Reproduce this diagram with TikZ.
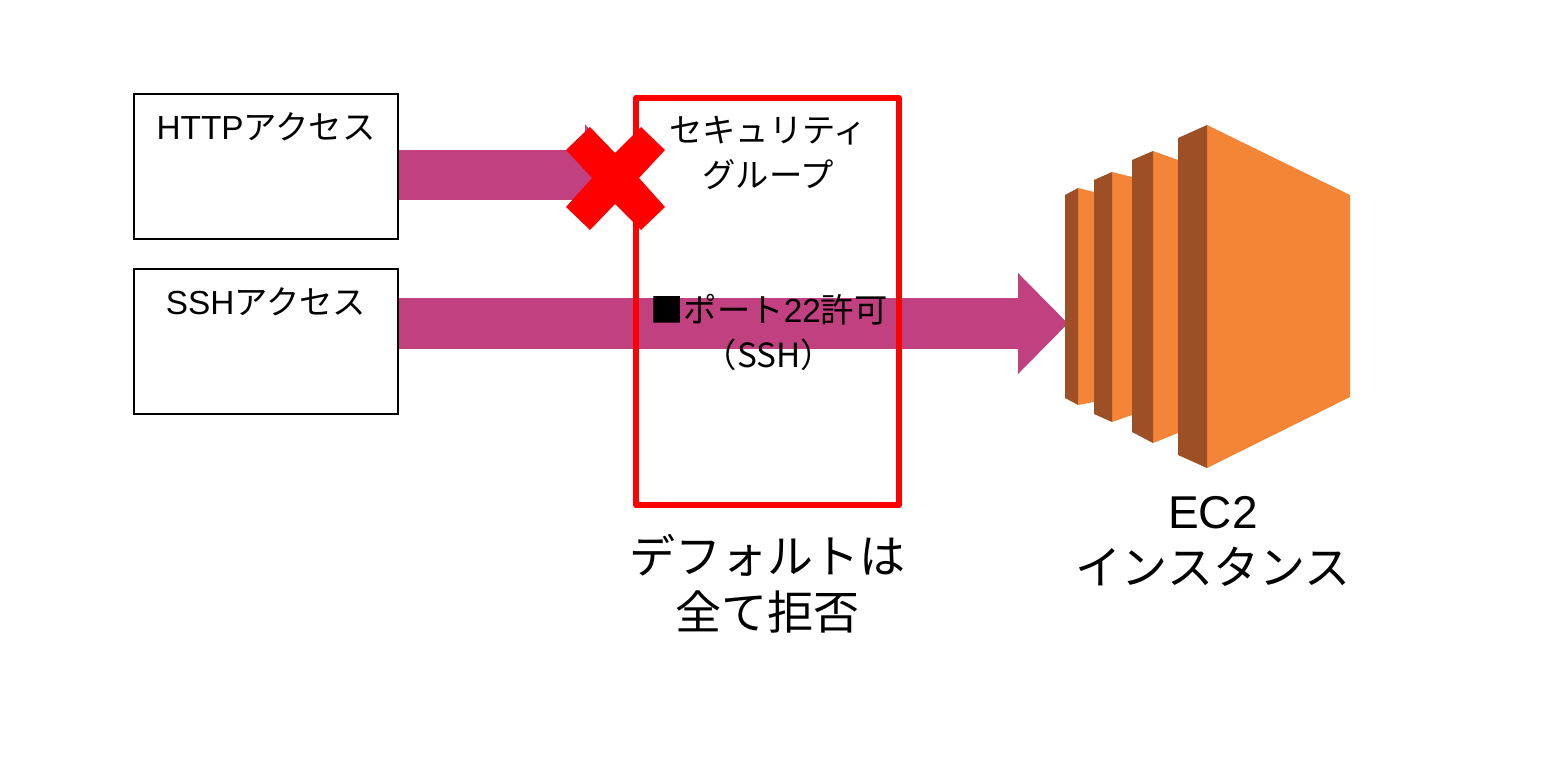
\documentclass[tikz,border=0pt]{standalone}
\usepackage{fontspec}
\setmainfont{Liberation Sans}
\newfontfamily\cjk{Noto Sans CJK JP}
\usetikzlibrary{arrows.meta,calc}
\definecolor{flowc}{HTML}{C04080}
\definecolor{ecl}{HTML}{F58536}
\definecolor{ecd}{HTML}{9D5025}
\definecolor{xred}{HTML}{FF0000}
\tikzset{
  srcbox/.style={draw=black,line width=0.9pt,fill=white,minimum width=198pt,minimum height=108.75pt,inner sep=0pt},
  flow/.style={draw=flowc,line width=38pt,line cap=butt,-{Triangle[length=37.5pt 0 0,width=73.5pt 0 0,sep=0pt]}},
  small/.style={font=\fontsize{25}{33.75}\selectfont,align=center,inner sep=0pt},
  big/.style={font=\fontsize{34.5}{42}\selectfont,align=center,inner sep=0pt},
  sg/.style={draw=xred,line width=4.6pt,line join=round,fill=none,minimum width=197pt,minimum height=305.25pt,inner sep=0pt},
  lightf/.style={fill=ecl},
  darkf/.style={fill=ecd}
}
\begin{document}
\begin{tikzpicture}[x=0.75pt,y=-0.75pt]
\useasboundingbox (0,0) rectangle (1549,778);
% source boxes
\node[srcbox] (http) at (266,166.5) {};
\node[srcbox] (ssh) at (266,341.5) {};
\node[small] (httpt) at (266,127) {HTTP{\cjk アクセス}};
\node[small] (ssht) at (266,302) {SSH{\cjk アクセス}};
% arrow targets
\coordinate (sgtip) at (635,175);
\coordinate (ectip) at (1068,323.5);
\draw[flow] (http.east |- sgtip) -- (sgtip);
\draw[flow] (ssh.east |- ectip) -- (ectip);
% security group
\node[sg] (group) at (767.5,301.5) {};
\node[small] (sgt) at (768,152.5) {\cjk セキュリティ\\\cjk グループ};
\node[small] (portt) at (769,332) {\cjk ■ポート{\fontfamily{\rmdefault}\selectfont 22}許可\\\cjk （SSH）};
\node[big] (deft) at (767,584) {\cjk デフォルトは\\\cjk 全て拒否};
% cross
\fill[xred] (590,127) -- (615,153) -- (641,127) -- (665,150) -- (639,178) -- (665,207) -- (641,230) -- (615,204) -- (590,230) -- (566,207) -- (592,178) -- (566,150) -- cycle;
% EC2 icon
\fill[lightf] (1078,188) -- (1094,192) -- (1094,402) -- (1078,405) -- cycle;
\fill[darkf] (1065,195) -- (1078,188) -- (1078,405) -- (1065,398) -- cycle;
\fill[lightf] (1112,172) -- (1132,177) -- (1132,415) -- (1112,422) -- cycle;
\fill[darkf] (1094,180) -- (1112,172) -- (1112,422) -- (1094,414) -- cycle;
\fill[lightf] (1153,151) -- (1178,160) -- (1178,433) -- (1153,443) -- cycle;
\fill[darkf] (1132,160) -- (1153,151) -- (1153,443) -- (1132,432) -- cycle;
\fill[lightf] (1207,125) -- (1350,195) -- (1350,397) -- (1207,468) -- cycle;
\fill[darkf] (1178,138) -- (1207,125) -- (1207,468) -- (1178,455) -- cycle;
\node[big] (ect) at (1213,541) {EC2\\\cjk インスタンス};
\end{tikzpicture}
\end{document}
